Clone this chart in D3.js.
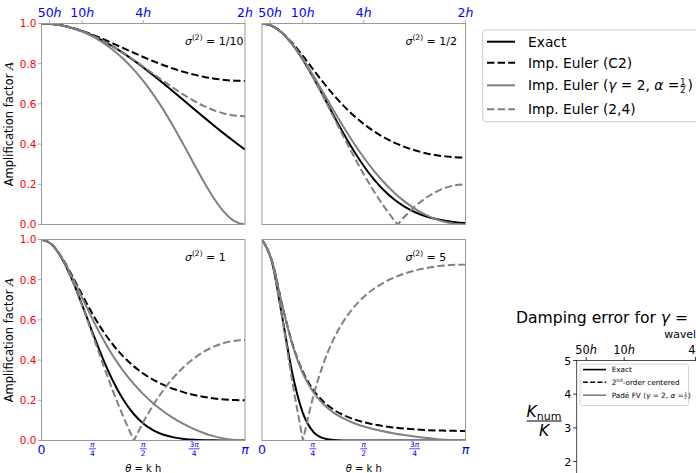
<!DOCTYPE html>
<html>
<head>
<meta charset="utf-8">
<script src="https://cdn.jsdelivr.net/npm/d3@7"></script>
<style>
  html, body { margin: 0; padding: 0; background: #fff; }
  svg { display: block; font-family: "DejaVu Sans", sans-serif; }
</style>
</head>
<body>
<svg id="chart" width="696" height="473"></svg>
<script>
// Sample positions along theta = k h, as fractions of pi
const thetaOverPi = [0, 0.05, 0.1, 0.15, 0.2, 0.25, 0.3, 0.35, 0.4, 0.45, 0.5,
                     0.55, 0.6, 0.65, 0.7, 0.75, 0.8, 0.85, 0.9, 0.95, 1];

// Diffusion numbers, one per panel
const sigmaLabels = ["1/10", "1/2", "1", "5"];

// Exact amplification factor
const exactA = [
  [1, 0.9975, 0.9902, 0.9780, 0.9613, 0.9402, 0.9150, 0.8861, 0.8539, 0.8189, 0.7814, 0.7419, 0.7010, 0.6590, 0.6166, 0.5740, 0.5317, 0.4901, 0.4496, 0.4104, 0.3727],
  [1, 0.9877, 0.9519, 0.8949, 0.8209, 0.7346, 0.6414, 0.5463, 0.4540, 0.3681, 0.2912, 0.2247, 0.1692, 0.1243, 0.0891, 0.0623, 0.0425, 0.0283, 0.0184, 0.0116, 0.0072],
  [1, 0.9756, 0.9060, 0.8009, 0.6738, 0.5396, 0.4114, 0.2985, 0.2062, 0.1355, 0.0848, 0.0505, 0.0286, 0.0155, 0.0079, 0.0039, 0.0018, 0.0008, 0.0003, 0.0001, 0.0001],
  [1, 0.8839, 0.6105, 0.3295, 0.1389, 0.0458, 0.0118, 0.0024, 0.0004, 0.0001, 0, 0, 0, 0, 0, 0, 0, 0, 0, 0, 0]
];

// Implicit Euler, 2nd-order centered
const c2A = [
  [1, 0.9975, 0.9903, 0.9787, 0.9632, 0.9447, 0.9238, 0.9015, 0.8786, 0.8556, 0.8333, 0.8122, 0.7925, 0.7747, 0.7590, 0.7455, 0.7343, 0.7256, 0.7193, 0.7155, 0.7143],
  [1, 0.9878, 0.9533, 0.9017, 0.8396, 0.7735, 0.7081, 0.6468, 0.5914, 0.5424, 0.5000, 0.4637, 0.4331, 0.4075, 0.3864, 0.3694, 0.3560, 0.3459, 0.3389, 0.3347, 0.3333],
  [1, 0.9760, 0.9108, 0.8210, 0.7236, 0.6306, 0.5481, 0.4780, 0.4198, 0.3721, 0.3333, 0.3019, 0.2764, 0.2559, 0.2395, 0.2265, 0.2165, 0.2091, 0.2040, 0.2010, 0.2000],
  [1, 0.8904, 0.6714, 0.4785, 0.3437, 0.2545, 0.1952, 0.1548, 0.1264, 0.1060, 0.0909, 0.0796, 0.0710, 0.0644, 0.0592, 0.0553, 0.0524, 0.0502, 0.0488, 0.0479, 0.0476]
];

// Implicit Euler, Pade FV (gamma = 2, alpha = 1/2)
const padeA = [
  [1, 0.9975, 0.9901, 0.9775, 0.9595, 0.9358, 0.9059, 0.8694, 0.8257, 0.7741, 0.7143, 0.6458, 0.5689, 0.4842, 0.3936, 0.3002, 0.2088, 0.1259, 0.0590, 0.0152, 0],
  [1, 0.9878, 0.9522, 0.8966, 0.8257, 0.7445, 0.6582, 0.5711, 0.4864, 0.4067, 0.3333, 0.2673, 0.2088, 0.1581, 0.1149, 0.0790, 0.0501, 0.0280, 0.0124, 0.0031, 0],
  [1, 0.9759, 0.9095, 0.8154, 0.7098, 0.6050, 0.5084, 0.4228, 0.3486, 0.2851, 0.2308, 0.1843, 0.1444, 0.1102, 0.0811, 0.0566, 0.0364, 0.0206, 0.0092, 0.0023, 0],
  [1, 0.8902, 0.6696, 0.4737, 0.3359, 0.2441, 0.1825, 0.1400, 0.1096, 0.0871, 0.0698, 0.0560, 0.0447, 0.0352, 0.0268, 0.0195, 0.0131, 0.0077, 0.0036, 0.0009, 0]
];

// Implicit Euler (2,4)
const c24A = [
  [1, 0.9975, 0.9902, 0.9780, 0.9613, 0.9403, 0.9152, 0.8867, 0.8551, 0.8212, 0.7857, 0.7494, 0.7132, 0.6780, 0.6449, 0.6147, 0.5886, 0.5672, 0.5514, 0.5417, 0.5385],
  [1, 0.9877, 0.9518, 0.8948, 0.8204, 0.7332, 0.6376, 0.5381, 0.4384, 0.3416, 0.2500, 0.1653, 0.0886, 0.0207, 0.0383, 0.0880, 0.1285, 0.1599, 0.1822, 0.1956, 0.2000],
  [1, 0.9756, 0.9059, 0.8002, 0.6705, 0.5291, 0.3864, 0.2495, 0.1230, 0.0093, 0.0909, 0.1778, 0.2521, 0.3148, 0.3669, 0.4093, 0.4429, 0.4683, 0.4860, 0.4965, 0.5000],
  [1, 0.8838, 0.6042, 0.2861, 0.0069, 0.2125, 0.3776, 0.5004, 0.5922, 0.6615, 0.7143, 0.7550, 0.7866, 0.8112, 0.8304, 0.8453, 0.8566, 0.8649, 0.8706, 0.8739, 0.8750]
];
// Where the (2,4) factor touches zero (theta / pi), null if it never does
const c24ZeroOverPi = [null, 0.66686, 0.45422, 0.20124];

// Axis ticks
const yTicks = [0, 0.2, 0.4, 0.6, 0.8, 1.0];
const wavelengthTicks = [50, 10, 4, 2];          // in units of h
const thetaTicks = [
  { num: null, big: "0", v: 0 },
  { num: "π", den: "4", v: 0.25 },
  { num: "π", den: "2", v: 0.5 },
  { num: "3π", den: "4", v: 0.75 },
  { num: null, big: "π", v: 1 }
];

// Damping-error axes
const dampTicks = [2, 3, 4, 5];
const dampWavelengthTicks = [50, 10, 4];

// ---------------------------------------------------------------
const svg = d3.select("#chart");
const BLUE = "#0000ff", RED = "#ff0000", GRAY = "#808080";
const DASH = "7.4,3.2";

const pw = 203.5, ph = 201;
const panelPos = [
  { x: 41.5, y: 23.5 }, { x: 262, y: 23.5 },
  { x: 41.5, y: 239.5 }, { x: 262, y: 239.5 }
];

const defs = svg.append("defs");

panelPos.forEach((p, i) => {
  const g = svg.append("g").attr("transform", `translate(${p.x},${p.y})`);
  const x = d3.scaleLinear().domain([0, Math.PI]).range([0, pw]);
  const y = d3.scaleLinear().domain([0, 1]).range([ph, 0]);

  defs.append("clipPath").attr("id", "clip" + i)
    .append("rect").attr("x", 0).attr("y", 0).attr("width", pw).attr("height", ph);

  const line = d3.line().x(d => x(d[0])).y(d => y(d[1])).curve(d3.curveMonotoneX);
  const series = arr => thetaOverPi.map((t, k) => [t * Math.PI, arr[k]]);

  const plot = g.append("g").attr("clip-path", `url(#clip${i})`);

  plot.append("path").attr("d", line(series(exactA[i])))
    .attr("fill", "none").attr("stroke", "#000").attr("stroke-width", 2);
  plot.append("path").attr("d", line(series(c2A[i])))
    .attr("fill", "none").attr("stroke", "#000").attr("stroke-width", 2)
    .attr("stroke-dasharray", DASH);
  plot.append("path").attr("d", line(series(padeA[i])))
    .attr("fill", "none").attr("stroke", GRAY).attr("stroke-width", 2);

  // (2,4): two smooth branches joined at the zero, one continuous dash pattern
  const pts = series(c24A[i]);
  let d24;
  const z = c24ZeroOverPi[i];
  if (z === null) {
    d24 = line(pts);
  } else {
    const zp = [z * Math.PI, 0];
    const left = pts.filter(q => q[0] < zp[0]).concat([zp]);
    const right = [zp].concat(pts.filter(q => q[0] > zp[0]));
    d24 = line(left) + line(right).replace(/^M/, "L");
  }
  plot.append("path").attr("d", d24)
    .attr("fill", "none").attr("stroke", GRAY).attr("stroke-width", 2)
    .attr("stroke-dasharray", DASH);

  // frame
  g.append("rect").attr("x", 0).attr("y", 0).attr("width", pw).attr("height", ph)
    .attr("fill", "none").attr("stroke", "#999").attr("stroke-width", 1);

  // sigma label
  const st = g.append("text").attr("x", pw * 0.705).attr("y", 21)
    .attr("font-size", 11).attr("fill", "#000");
  st.append("tspan").attr("font-style", "italic").text("σ");
  st.append("tspan").attr("font-size", 7.5).attr("dy", -4.5).text("(2)");
  st.append("tspan").attr("dy", 4.5).text(" = " + sigmaLabels[i]);

  // y axis (left panels)
  if (i % 2 === 0) {
    yTicks.forEach(v => {
      g.append("line").attr("x1", -3.5).attr("x2", 0).attr("y1", y(v)).attr("y2", y(v))
        .attr("stroke", "#999").attr("stroke-width", 0.8);
      g.append("text").attr("x", -5).attr("y", y(v) + 3.8)
        .attr("text-anchor", "end").attr("font-size", 10.5).attr("fill", RED)
        .text(v.toFixed(1));
    });
    const yl = g.append("text")
      .attr("transform", `translate(${12.5 - p.x},${ph / 2}) rotate(-90)`)
      .attr("text-anchor", "middle").attr("font-size", 11.5).attr("fill", "#000");
    yl.append("tspan").text("Amplification factor ");
    yl.append("tspan").attr("font-style", "italic").attr("font-family", "DejaVu Serif").text("A");
  }

  // wavelength axis (top panels)
  if (i < 2) {
    wavelengthTicks.forEach(l => {
      const xx = x(2 * Math.PI / l);
      g.append("line").attr("x1", xx).attr("x2", xx).attr("y1", -3.5).attr("y2", 0)
        .attr("stroke", "#999").attr("stroke-width", 0.8);
      const t = g.append("text").attr("x", xx).attr("y", -6.8)
        .attr("text-anchor", "middle").attr("font-size", 12.5).attr("fill", BLUE);
      t.append("tspan").text(String(l));
      t.append("tspan").attr("font-style", "italic").text("h");
    });
  }

  // theta axis (bottom panels)
  if (i >= 2) {
    thetaTicks.forEach(tk => {
      const xx = x(tk.v * Math.PI);
      if (tk.num === null) {
        g.append("text").attr("x", xx).attr("y", ph + 13)
          .attr("text-anchor", "middle").attr("font-size", 12.5).attr("fill", BLUE)
          .attr("font-style", tk.big === "π" ? "italic" : "normal").text(tk.big);
      } else {
        const num = g.append("text").attr("x", xx).attr("y", ph + 6.5)
          .attr("text-anchor", "middle").attr("font-size", 7.5).attr("fill", BLUE);
        if (tk.num.length > 1) {
          num.append("tspan").text(tk.num[0]);
          num.append("tspan").attr("font-style", "italic").text(tk.num.slice(1));
        } else {
          num.append("tspan").attr("font-style", "italic").text(tk.num);
        }
        const hw = tk.num.length > 1 ? 5.5 : 3.5;
        g.append("line").attr("x1", xx - hw).attr("x2", xx + hw)
          .attr("y1", ph + 8.3).attr("y2", ph + 8.3).attr("stroke", BLUE).attr("stroke-width", 0.7);
        g.append("text").attr("x", xx).attr("y", ph + 15.5)
          .attr("text-anchor", "middle").attr("font-size", 7.5).attr("fill", BLUE).text(tk.den);
      }
    });
    const xl = g.append("text").attr("x", pw / 2).attr("y", 472 - p.y)
      .attr("text-anchor", "middle").attr("font-size", 10).attr("fill", "#000");
    xl.append("tspan").attr("font-style", "italic").text("θ");
    xl.append("tspan").text(" = k h");
  }
});

// ---------------- main legend ----------------
const legend = [
  { label: "Exact", color: "#000", dash: null },
  { label: "Imp. Euler (C2)", color: "#000", dash: DASH },
  { label: "frac", color: GRAY, dash: null },
  { label: "Imp. Euler (2,4)", color: GRAY, dash: DASH }
];
const lg = svg.append("g");
lg.append("rect").attr("x", 482.7).attr("y", 30).attr("width", 230).attr("height", 91.7)
  .attr("rx", 3).attr("fill", "#fff").attr("fill-opacity", 0.85)
  .attr("stroke", "#cccccc").attr("stroke-width", 1);
const legY = [41.7, 62.7, 85.3, 109.3];
legend.forEach((e, k) => {
  const yy = legY[k];
  lg.append("line").attr("x1", 487).attr("x2", 515).attr("y1", yy).attr("y2", yy)
    .attr("stroke", e.color).attr("stroke-width", 2)
    .attr("stroke-dasharray", e.dash);
  if (e.label !== "frac") {
    lg.append("text").attr("x", 528).attr("y", yy + 5).attr("font-size", 13.8)
      .attr("fill", "#000").text(e.label);
  } else {
    drawFracLabel(lg, 528, yy + 4.5, 13.8, "Imp. Euler (", ")");
  }
});

// label "<prefix>γ = 2, α = ½<suffix>" with a stacked fraction
function drawFracLabel(parent, x0, base, fs, prefix, suffix) {
  const t = parent.append("text").attr("x", x0).attr("y", base)
    .attr("font-size", fs).attr("fill", "#000");
  t.append("tspan").text(prefix);
  t.append("tspan").attr("font-style", "italic").text("γ");
  t.append("tspan").text(" = 2, ");
  t.append("tspan").attr("font-style", "italic").text("α");
  t.append("tspan").text(" = ");
  const w = t.node().getComputedTextLength();
  const fx = x0 + w + fs * 0.26;
  const lineY = base - fs * 0.27;
  parent.append("text").attr("x", fx).attr("y", lineY - fs * 0.08)
    .attr("text-anchor", "middle").attr("font-size", fs * 0.6).attr("fill", "#000").text("1");
  parent.append("line").attr("x1", fx - fs * 0.23).attr("x2", fx + fs * 0.23)
    .attr("y1", lineY).attr("y2", lineY).attr("stroke", "#000").attr("stroke-width", fs * 0.05);
  parent.append("text").attr("x", fx).attr("y", lineY + fs * 0.5)
    .attr("text-anchor", "middle").attr("font-size", fs * 0.6).attr("fill", "#000").text("2");
  parent.append("text").attr("x", fx + fs * 0.33).attr("y", base)
    .attr("font-size", fs).attr("fill", "#000").text(suffix);
}

// ---------------- damping-error axes ----------------
const dg = svg.append("g");
const dx = d3.scaleLinear().domain([0, Math.PI]).range([576.7, 576.7 + 237.5]);
const dy = d3.scaleLinear().domain([2, 5]).range([461.5, 360.5]);

const title = dg.append("text").attr("x", 516).attr("y", 323).attr("font-size", 15.6).attr("fill", "#000");
title.append("tspan").text("Damping error for ");
title.append("tspan").attr("font-style", "italic").text("γ");
title.append("tspan").text(" =");

dg.append("text").attr("x", 664.3).attr("y", 337.5).attr("font-size", 10.9).attr("fill", "#000")
  .text("wavelength");

dg.append("rect").attr("x", dx(0)).attr("y", dy(5)).attr("width", 300).attr("height", 200)
  .attr("fill", "none").attr("stroke", "#222").attr("stroke-width", 0.8);

dampWavelengthTicks.forEach(l => {
  const xx = dx(2 * Math.PI / l);
  dg.append("line").attr("x1", xx).attr("x2", xx).attr("y1", dy(5) - 3.5).attr("y2", dy(5))
    .attr("stroke", "#000").attr("stroke-width", 0.8);
  const t = dg.append("text").attr("x", xx).attr("y", dy(5) - 7)
    .attr("text-anchor", "middle").attr("font-size", 11.4).attr("fill", "#000");
  t.append("tspan").text(String(l));
  t.append("tspan").attr("font-style", "italic").text("h");
});

dampTicks.forEach(v => {
  dg.append("line").attr("x1", dx(0) - 3.5).attr("x2", dx(0)).attr("y1", dy(v)).attr("y2", dy(v))
    .attr("stroke", "#000").attr("stroke-width", 0.8);
  dg.append("text").attr("x", dx(0) - 5.5).attr("y", dy(v) + 4)
    .attr("text-anchor", "end").attr("font-size", 11).attr("fill", "#000").text(v);
});

// K_num / K
const kx = 544;
const kn = dg.append("text").attr("x", kx).attr("y", 417).attr("text-anchor", "middle")
  .attr("font-size", 15.5).attr("fill", "#000");
kn.append("tspan").attr("font-style", "italic").text("K");
kn.append("tspan").attr("font-size", 11).attr("dy", 3).text("num");
dg.append("line").attr("x1", 526.7).attr("x2", 561.7).attr("y1", 421).attr("y2", 421)
  .attr("stroke", "#000").attr("stroke-width", 1);
dg.append("text").attr("x", kx).attr("y", 435.5).attr("text-anchor", "middle")
  .attr("font-size", 15.5).attr("font-style", "italic").attr("fill", "#000").text("K");

// inset legend
const il = dg.append("g");
il.append("rect").attr("x", 580).attr("y", 364).attr("width", 108.5).attr("height", 41.5)
  .attr("rx", 2).attr("fill", "#fff").attr("stroke", "#cccccc").attr("stroke-width", 0.8);
const ilY = [369.6, 382.2, 395.2];
const ilItems = [
  { color: "#000", dash: null },
  { color: "#000", dash: "5,2.2" },
  { color: GRAY, dash: null }
];
ilItems.forEach((e, k) => {
  il.append("line").attr("x1", 583).attr("x2", 606).attr("y1", ilY[k]).attr("y2", ilY[k])
    .attr("stroke", e.color).attr("stroke-width", 1.6).attr("stroke-dasharray", e.dash);
});
il.append("text").attr("x", 611.7).attr("y", ilY[0] + 2.6).attr("font-size", 7.3).text("Exact");
const ct = il.append("text").attr("x", 611.7).attr("y", ilY[1] + 2.6).attr("font-size", 7.3);
ct.append("tspan").text("2");
ct.append("tspan").attr("font-size", 5).attr("dy", -2.6).text("nd");
ct.append("tspan").attr("dy", 2.6).text("-order centered");
drawFracLabel(il, 611.7, ilY[2] + 2.6, 7.3, "Padé FV (", ")");
</script>
</body>
</html>
